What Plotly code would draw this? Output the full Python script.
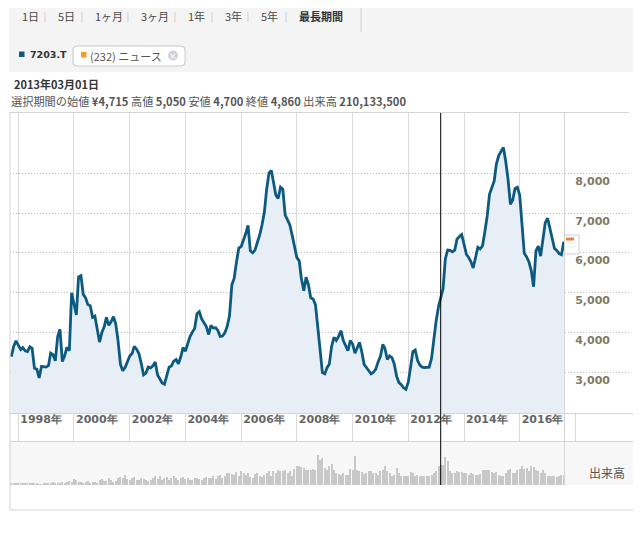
import plotly.graph_objects as go
import pandas as pd

# ---------------- data ----------------
start_month = "1997-10-01"
price = [
    3390, 3650, 3790, 3680, 3570, 3620, 3540, 3520, 3640, 3600,
    3100, 3080, 2860, 3150, 3140, 3130, 3170, 3480, 3440, 3290,
    3900, 4080, 3270, 3420, 3630, 3540, 5000, 4740, 4440, 5400,
    5430, 4960, 4870, 4700, 4670, 4380, 4410, 4080, 3760, 4000,
    4150, 4380, 4180, 4270, 4400, 4220, 3790, 3200, 3040, 3120,
    3260, 3410, 3470, 3650, 3580, 3470, 3220, 2935, 2980, 3130,
    3110, 3160, 3260, 2930, 2830, 2730, 2700, 2900, 3130, 3160,
    3280, 3320, 3210, 3390, 3620, 3530, 3720, 3900, 4010, 4100,
    4470, 4520, 4340, 4250, 4150, 3950, 4180, 4110, 4120, 4050,
    3900, 3910, 3990, 4150, 4420, 5200, 5360, 5780, 6120, 6160,
    6320, 6480, 6690, 6050, 6000, 6070, 6260, 6450, 6700, 7020,
    7600, 8010, 8070, 7780, 7450, 7370, 7650, 7600, 6950, 6830,
    6700, 6440, 6150, 5880, 5800, 5350, 5050, 5390, 5200, 4870,
    4840, 4700, 4140, 3560, 2990, 2960, 3120, 3200, 3650, 3880,
    3800, 3900, 4046, 3800, 3670, 3540, 3800, 3710, 3480, 3600,
    3750, 3520, 3200, 3120, 3030, 2960, 3000, 3080, 3260, 3400,
    3700, 3600, 3320, 3410, 3370, 3210, 2900, 2740, 2690, 2610,
    2570, 2750, 3140, 3520, 3560, 3300, 3180, 3130, 3120, 3130,
    3130, 3350, 3840, 4300, 4660, 4860, 5100, 5850, 6073, 6065,
    6025, 6070, 6345, 6410, 6460, 6220, 5960, 5890, 5780, 5620,
    5920, 6140, 6100, 6180, 6530, 6930, 7470, 7650, 7810, 8230,
    8445, 8550, 8650, 8310, 7850, 7220, 7330, 7620, 7650, 7450,
    6800, 5990, 5900, 5775, 5550, 5150, 6050, 6170, 5920, 6380,
    6760, 6870, 6600, 6300, 6110, 6060, 5980, 5955, 6282,
]
volume = [  # millions of shares per month
    18, 21, 18, 14, 14, 11, 11, 11, 11, 14, 21, 11,
    4, 4,
    14, 21, 11, 21, 28, 21, 18, 25, 35, 18, 28, 42, 35,
    63, 49, 35, 28, 25, 32, 42, 25, 35, 28, 21, 49, 63, 42,
    42, 70, 49, 28, 42, 77, 84, 70, 105, 63, 53, 70, 84, 56, 49,
    77, 63, 49, 42, 53, 77, 88, 63, 98, 56, 70, 84, 56, 77, 91,
    70, 56, 77, 84, 63, 70, 49, 56, 70, 77, 63, 53, 70, 84, 77,
    70, 91, 63, 98, 105, 70, 91, 119, 126, 112, 105, 133, 91, 140, 119,
    105, 126, 84, 77, 112, 126, 98, 84, 105, 126, 140, 98, 147, 126, 158, 140, 147,
    158, 123, 140, 95, 165, 193, 200, 186, 175, 151, 158, 151, 165, 158,
    315, 256, 280, 175, 158, 200, 221, 158, 123, 116, 105, 123, 105, 105,
    165, 158, 305, 158, 140, 130, 116, 123, 140, 140, 123, 123, 105, 140,
    158, 200, 140, 123, 95, 105, 175, 123, 95, 95, 88, 88, 130, 123,
    95, 105, 88, 95, 88, 88, 95, 105, 123, 140, 200, 210, 210, 287,
    245, 140, 123, 123, 140, 130, 133, 123, 123, 105, 123, 116, 105, 105,
    116, 158, 158, 158, 158, 130, 123, 130, 105, 95, 95, 123, 151, 165,
    123, 123, 158, 165, 200, 165, 175, 140, 200, 186, 151, 140, 123, 158,
    123, 95, 88, 88, 88, 81, 95, 105, 105,
]
y_ticks = [3000, 4000, 5000, 6000, 7000, 8000]
selected_date = "2013-03-01"
periods = ["1日", "5日", "1ヶ月", "3ヶ月", "1年", "3年", "5年", "最長期間"]
stats_text = ("選択期間の始値 <b>¥4,715</b> 高値 <b>5,050</b> 安値 <b>4,700</b> "
              "終値 <b>4,860</b> 出来高 <b>210,133,500</b>")

n = min(len(price), len(volume))
months = pd.date_range(start_month, periods=n, freq="MS")

# ---------------- layout helpers ----------------
# the page body has an 8px margin, so the figure is placed 8px in from the window edge
OFF = 8
W, H = 641 - OFF, 539 - OFF
def fx(px): return (px - OFF) / W
def fy(py): return 1 - (py - OFF) / H

LINE = "#0c5a80"
FILL = "#e8eef5"
GRID = "#dadada"
BORDER = "#d4d4d4"
JP = "Noto Sans CJK JP"
NUM = "DejaVu Sans"

xdom = [fx(10), fx(629)]
xrange_ = ["1997-09-14", "2019-12-04"]

fig = go.Figure()
fig.add_trace(go.Scatter(
    x=months, y=price[:n], mode="lines", fill="tozeroy", fillcolor=FILL,
    line=dict(color=LINE, width=2.8), xaxis="x", yaxis="y",
    hoverinfo="skip", showlegend=False))
fig.add_trace(go.Scatter(
    x=[months[0]], y=[0.5], mode="markers", marker=dict(opacity=0),
    xaxis="x2", yaxis="y2", hoverinfo="skip", showlegend=False))
fig.add_trace(go.Bar(
    x=months, y=volume[:n], marker=dict(color="#c8c8c8", line=dict(width=0)),
    width=14 * 86400000, xaxis="x3", yaxis="y3",
    hoverinfo="skip", showlegend=False))

shapes = []
# backgrounds
shapes.append(dict(type="rect", xref="paper", yref="paper", x0=fx(9), x1=1,
                   y0=fy(72), y1=1, fillcolor="#f4f4f4", line=dict(width=0), layer="below"))
shapes.append(dict(type="rect", xref="paper", yref="paper", x0=fx(10), x1=1,
                   y0=fy(485), y1=fy(441), fillcolor="#f7f7f7", line=dict(width=0), layer="below"))
# toolbar right separator
shapes.append(dict(type="line", xref="paper", yref="paper", x0=fx(361), x1=fx(361),
                   y0=fy(32), y1=1, line=dict(color="#d0d0d0", width=1)))
# frame lines
for (x0, y0, x1, y1) in [(10, 112.5, 629, 112.5), (10, 413.5, 641, 413.5),
                         (10, 441.5, 641, 441.5), (10, 510, 641, 510),
                         (10, 112, 10, 510), (564.5, 112, 564.5, 485)]:
    shapes.append(dict(type="line", xref="paper", yref="paper",
                       x0=fx(x0), x1=fx(x1), y0=fy(y0), y1=fy(y1),
                       line=dict(color=BORDER, width=1)))
# crosshair at selected date
shapes.append(dict(type="line", xref="x", yref="paper", x0=selected_date, x1=selected_date,
                   y0=fy(485), y1=fy(113), line=dict(color="#000000", width=1)))
# news flag at right
shapes.append(dict(type="rect", xref="paper", yref="paper", x0=fx(564.5), x1=fx(579),
                   y0=fy(254), y1=fy(235), fillcolor="#ffffff", line=dict(color="#cfcfcf", width=1)))
shapes.append(dict(type="rect", xref="paper", yref="paper", x0=fx(566), x1=fx(574),
                   y0=fy(240.5), y1=fy(237.5), fillcolor="#e8843a", line=dict(width=0)))
for yy in (243, 247):
    shapes.append(dict(type="line", xref="paper", yref="paper", x0=fx(566), x1=fx(577),
                       y0=fy(yy), y1=fy(yy), line=dict(color="#eeeeee", width=1)))
# legend markers
shapes.append(dict(type="rect", xref="paper", yref="paper", x0=fx(19), x1=fx(24.5),
                   y0=fy(57), y1=fy(51.5), fillcolor=LINE, line=dict(width=0)))
# news box (rounded)
bx0, bx1, by0, by1, r = 73, 185, 46, 66, 4
path = (f"M {fx(bx0+r)},{fy(by0)} L {fx(bx1-r)},{fy(by0)} Q {fx(bx1)},{fy(by0)} {fx(bx1)},{fy(by0+r)} "
        f"L {fx(bx1)},{fy(by1-r)} Q {fx(bx1)},{fy(by1)} {fx(bx1-r)},{fy(by1)} "
        f"L {fx(bx0+r)},{fy(by1)} Q {fx(bx0)},{fy(by1)} {fx(bx0)},{fy(by1-r)} "
        f"L {fx(bx0)},{fy(by0+r)} Q {fx(bx0)},{fy(by0)} {fx(bx0+r)},{fy(by0)} Z")
shapes.append(dict(type="path", xref="paper", yref="paper", path=path,
                   fillcolor="#ffffff", line=dict(color="#c8c8c8", width=1)))
shapes.append(dict(type="rect", xref="paper", yref="paper", x0=fx(81), x1=fx(86.5),
                   y0=fy(57.5), y1=fy(52), fillcolor="#f39a2b", line=dict(width=0)))
shapes.append(dict(type="circle", xref="paper", yref="paper", x0=fx(168), x1=fx(178),
                   y0=fy(60.5), y1=fy(50.5), fillcolor="#d2d2d2", line=dict(width=0)))

annotations = []
tool_x = [20, 56, 93, 139, 186, 223, 259, 297]
for lab, xp in zip(periods, tool_x):
    bold = lab == "最長期間"
    annotations.append(dict(xref="paper", yref="paper", x=fx(xp), y=fy(16), xanchor="left",
                            yanchor="middle", showarrow=False,
                            text=f"<b>{lab}</b>" if bold else lab,
                            font=dict(family=JP, size=11, color="#333333" if bold else "#4a4a4a")))
for sx in [45, 82, 128, 175, 212, 248, 286]:
    annotations.append(dict(xref="paper", yref="paper", x=fx(sx), y=fy(16), xanchor="center",
                            yanchor="middle", showarrow=False, text="|",
                            font=dict(family=NUM, size=11, color="#d0d0d0")))
annotations.append(dict(xref="paper", yref="paper", x=fx(28), y=fy(54), xanchor="left",
                        yanchor="middle", showarrow=False, text="<b>7203.T</b>",
                        font=dict(family=NUM, size=9.5, color="#333333")))
annotations.append(dict(xref="paper", yref="paper", x=fx(88), y=fy(55.5), xanchor="left",
                        yanchor="middle", showarrow=False, text="(232) ニュース",
                        font=dict(family=JP, size=11, color="#555555")))
annotations.append(dict(xref="paper", yref="paper", x=fx(173), y=fy(55.5), xanchor="center",
                        yanchor="middle", showarrow=False, text="×",
                        font=dict(family=NUM, size=9, color="#ffffff")))
annotations.append(dict(xref="paper", yref="paper", x=fx(12), y=fy(84), xanchor="left",
                        yanchor="middle", showarrow=False, text="<b>2013年03月01日</b>",
                        font=dict(family=JP, size=11, color="#333333")))
annotations.append(dict(xref="paper", yref="paper", x=fx(9), y=fy(100.5), xanchor="left",
                        yanchor="middle", showarrow=False, text=stats_text,
                        font=dict(family=JP, size=11.2, color="#555555")))
annotations.append(dict(xref="paper", yref="paper", x=fx(607), y=fy(472), xanchor="center",
                        yanchor="middle", showarrow=False, text="出来高",
                        font=dict(family=JP, size=12, color="#555555")))

fig.update_layout(
    width=W, height=H, margin=dict(l=0, r=0, t=0, b=0),
    paper_bgcolor="#ffffff", plot_bgcolor="rgba(0,0,0,0)",
    showlegend=False, bargap=0,
    shapes=shapes, annotations=annotations,
    xaxis=dict(domain=xdom, range=xrange_, anchor="y", type="date",
               tick0="1998-01-01", dtick="M24", tickformat="%Y年",
               ticklabelposition="outside right", ticklabelshift=2, ticklabelstandoff=-2,
               ticks="",
               showgrid=True, gridcolor=GRID, gridwidth=1, zeroline=False, showline=False,
               tickfont=dict(family=NUM, size=11, color="#666666", weight="bold")),
    yaxis=dict(domain=[fy(413), fy(113)], range=[1977, 9515], anchor="x", side="right",
               tickvals=y_ticks, tickformat=",", ticklabelposition="inside bottom",
               ticklabelstandoff=16, ticks="",
               showgrid=True, gridcolor="#bdbdbd", griddash="1px,2px", gridwidth=1,
               zeroline=False, showline=False,
               tickfont=dict(family=NUM, size=11, color="#807a64", weight="bold")),
    xaxis2=dict(domain=xdom, matches="x", anchor="y2", type="date",
                tick0="1998-01-01", dtick="M24", showticklabels=False, ticks="",
                showgrid=True, gridcolor=GRID, zeroline=False, showline=False),
    yaxis2=dict(domain=[fy(441), fy(413)], range=[0, 1], anchor="x2",
                showgrid=False, showticklabels=False, zeroline=False, ticks=""),
    xaxis3=dict(domain=xdom, matches="x", anchor="y3", type="date",
                showticklabels=False, ticks="", showgrid=False, zeroline=False, showline=False),
    yaxis3=dict(domain=[fy(485), fy(441)], range=[0, 455], anchor="x3",
                showgrid=False, showticklabels=False, zeroline=False, ticks=""),
)

fig.write_html("out.html")
